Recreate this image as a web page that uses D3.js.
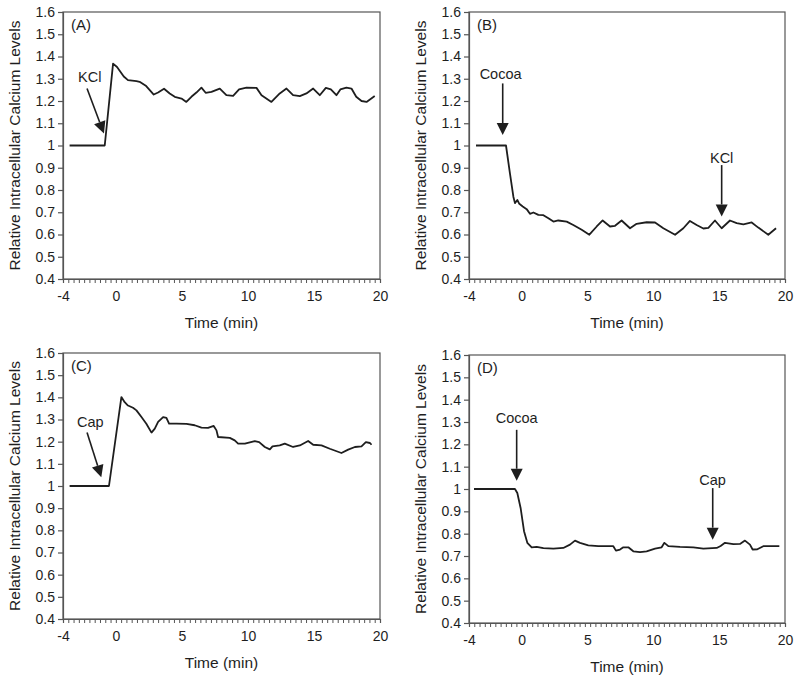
<!DOCTYPE html>
<html><head><meta charset="utf-8">
<script src="https://cdn.jsdelivr.net/npm/d3@7"></script>
<style>
body{margin:0;background:#fff}
svg{display:block}
text{font-family:Arial,"Liberation Sans",sans-serif;fill:#1e1e1e}
</style></head><body>
<svg id="c" width="800" height="684"></svg>
<script>
// ---- data ----
const yTickValues = [0.4,0.5,0.6,0.7,0.8,0.9,1.0,1.1,1.2,1.3,1.4,1.5,1.6];
const xTickLabels = [-4,0,5,10,15,20];
const xMinorStep = 0.4;

const timeA = [-3.5,-0.84,-0.21,0.09,0.6,0.92,1.56,1.8,2.3,2.87,3.2,3.65,4.08,4.46,4.97,5.34,5.72,6.1,6.48,6.8,7.24,7.87,8.37,8.88,9.33,9.89,10.65,11.03,11.78,12.41,12.92,13.42,13.93,14.43,14.94,15.44,15.9,16.28,16.7,17.0,17.46,17.84,18.2,18.6,18.98,19.6];
const calcA = [1.0,1.0,1.368,1.353,1.31,1.294,1.289,1.286,1.267,1.229,1.238,1.255,1.234,1.219,1.211,1.196,1.219,1.238,1.26,1.237,1.241,1.256,1.226,1.223,1.252,1.26,1.259,1.226,1.196,1.234,1.256,1.226,1.222,1.234,1.256,1.226,1.259,1.252,1.226,1.252,1.26,1.256,1.219,1.2,1.196,1.222];

const timeB = [-3.47,-1.19,-0.89,-0.63,-0.51,-0.33,-0.18,0.08,0.38,0.63,0.89,1.27,1.65,2.03,2.41,2.78,3.42,3.92,4.56,5.14,5.7,6.15,6.71,7.09,7.59,8.23,8.73,9.49,10.13,10.76,11.65,12.28,12.78,13.29,13.8,14.18,14.68,15.19,15.82,16.33,16.84,17.47,17.97,18.73,19.32];
const calcB = [1.0,1.0,0.875,0.77,0.741,0.755,0.738,0.726,0.714,0.693,0.699,0.688,0.687,0.673,0.658,0.663,0.658,0.643,0.621,0.599,0.636,0.663,0.636,0.639,0.663,0.628,0.648,0.655,0.654,0.628,0.599,0.628,0.661,0.643,0.627,0.63,0.663,0.628,0.663,0.651,0.646,0.654,0.631,0.599,0.628];

const timeC = [-3.5,-0.52,0.42,0.67,0.92,1.3,1.56,1.94,2.31,2.7,2.95,3.2,3.58,3.83,4.03,4.59,5.35,5.97,6.48,6.98,7.41,7.62,7.74,8.63,9.0,9.26,9.77,10.52,10.85,11.28,11.66,11.86,12.41,12.79,13.42,13.93,14.56,14.94,15.57,16.2,17.08,17.59,18.1,18.6,18.93,19.24,19.36];
const calcC = [1.0,1.0,1.401,1.378,1.363,1.353,1.341,1.311,1.281,1.241,1.259,1.289,1.311,1.307,1.281,1.281,1.28,1.274,1.263,1.262,1.271,1.251,1.221,1.217,1.206,1.191,1.191,1.202,1.198,1.176,1.165,1.179,1.183,1.191,1.176,1.183,1.203,1.186,1.183,1.168,1.149,1.164,1.176,1.179,1.198,1.194,1.186];

const timeD = [-3.62,-0.51,-0.33,-0.08,0.18,0.43,0.76,1.14,1.65,2.41,3.16,3.67,4.05,4.43,5.06,5.82,6.96,7.16,7.47,7.72,8.1,8.48,8.99,9.49,10.13,10.63,10.84,11.14,12.03,13.04,13.8,14.81,15.11,15.44,16.08,16.58,16.96,17.34,17.54,17.9,18.35,19.57];
const calcD = [1.0,1.0,0.982,0.915,0.811,0.759,0.739,0.741,0.735,0.733,0.736,0.751,0.769,0.759,0.748,0.744,0.744,0.724,0.729,0.739,0.739,0.721,0.717,0.721,0.733,0.739,0.759,0.744,0.741,0.739,0.733,0.736,0.745,0.759,0.753,0.754,0.769,0.751,0.729,0.73,0.744,0.744];

// annotations: label, label position (t,v), arrow start (t,v), arrow end (t,v)
const notesA = [{label:"KCl", lt:-1.98, lv:1.309, t0:-2.18, v0:1.256, t1:-0.9, v1:1.054}];
const notesB = [{label:"Cocoa", lt:-1.6, lv:1.323, t0:-1.44, v0:1.279, t1:-1.44, v1:1.047},
                {label:"KCl", lt:15.19, lv:0.945, t0:15.19, v0:0.912, t1:15.19, v1:0.681}];
const notesC = [{label:"Cap", lt:-1.93, lv:1.289, t0:-2.18, v0:1.241, t1:-1.1, v1:1.04}];
const notesD = [{label:"Cocoa", lt:-0.38, lv:1.317, t0:-0.38, v0:1.265, t1:-0.38, v1:1.037},
                {label:"Cap", lt:14.5, lv:1.042, t0:14.51, v0:1.004, t1:14.51, v1:0.773}];

const panels = [
  {tag:"(A)", t:timeA, v:calcA, notes:notesA, left:63, top:12, w:317, h:267},
  {tag:"(B)", t:timeB, v:calcB, notes:notesB, left:469, top:12, w:316, h:267},
  {tag:"(C)", t:timeC, v:calcC, notes:notesC, left:63, top:353, w:317, h:266},
  {tag:"(D)", t:timeD, v:calcD, notes:notesD, left:469, top:355, w:316, h:268}
];

const svg = d3.select("#c");
const axisCol = "#555";
const lineCol = "#1e1e1e";

panels.forEach(p => {
  const g = svg.append("g").attr("transform", `translate(${p.left},${p.top})`);
  const x = d3.scaleLinear().domain([-4,20]).range([0,p.w]);
  const y = d3.scaleLinear().domain([0.4,1.6]).range([p.h,0]);

  // frame
  g.append("rect").attr("x",0).attr("y",0).attr("width",p.w).attr("height",p.h)
    .attr("fill","none").attr("stroke",axisCol).attr("stroke-width",1.2);

  // y axis
  const ya = d3.axisLeft(y).tickValues(yTickValues).tickSize(5).tickPadding(3)
    .tickFormat(d => d3.format(".1f")(d).replace(/^1\.0$/,"1"));
  const yg = g.append("g").call(ya);
  yg.select(".domain").attr("stroke",axisCol).attr("stroke-width",1.2);
  yg.selectAll(".tick line").attr("stroke",axisCol).attr("stroke-width",1.2);
  yg.selectAll(".tick text").style("font-size","14px").attr("fill","#1e1e1e");

  // x axis minor ticks
  const minor = d3.range(-4, 20.0001, xMinorStep);
  const xm = d3.axisBottom(x).tickValues(minor).tickSize(4).tickFormat("");
  const xmg = g.append("g").attr("transform",`translate(0,${p.h})`).call(xm);
  xmg.select(".domain").attr("stroke",axisCol).attr("stroke-width",1.2);
  xmg.selectAll(".tick line").attr("stroke",axisCol).attr("stroke-width",1);

  // x labels
  const xa = d3.axisBottom(x).tickValues(xTickLabels).tickSize(0).tickPadding(12)
    .tickFormat(d => String(d));
  const xag = g.append("g").attr("transform",`translate(0,${p.h})`).call(xa);
  xag.select(".domain").remove();
  xag.selectAll(".tick text").style("font-size","14px").attr("fill","#1e1e1e");

  // axis titles
  g.append("text").attr("x",p.w/2).attr("y",p.h+49).attr("text-anchor","middle")
    .style("font-size","15.5px").text("Time (min)");
  g.append("text").attr("transform",`translate(${-43},${p.h/2}) rotate(-90)`)
    .attr("text-anchor","middle").style("font-size","15.5px")
    .text("Relative Intracellular Calcium Levels");

  // panel tag
  g.append("text").attr("x",8).attr("y",18).style("font-size","15px").text(p.tag);

  // trace
  const pts = p.t.map((t,i)=>[t,p.v[i]]);
  g.append("path").datum(pts)
    .attr("d", d3.line().x(d=>x(d[0])).y(d=>y(d[1])))
    .attr("fill","none").attr("stroke",lineCol).attr("stroke-width",1.8)
    .attr("stroke-linejoin","round");

  // annotations
  p.notes.forEach(n => {
    const x0=x(n.t0), y0=y(n.v0), x1=x(n.t1), y1=y(n.v1);
    const ang = Math.atan2(y1-y0, x1-x0);
    const L=12, W=6;
    const bx = x1 - L*Math.cos(ang), by = y1 - L*Math.sin(ang);
    g.append("line").attr("x1",x0).attr("y1",y0).attr("x2",bx).attr("y2",by)
      .attr("stroke",lineCol).attr("stroke-width",1.6);
    const px = -Math.sin(ang), py = Math.cos(ang);
    g.append("path").attr("d",`M${x1},${y1}L${bx+W*px},${by+W*py}L${bx-W*px},${by-W*py}Z`)
      .attr("fill",lineCol);
    g.append("text").attr("x",x(n.lt)).attr("y",y(n.lv)).attr("dy","0.36em")
      .attr("text-anchor","middle").style("font-size","14.5px").text(n.label);
  });
});
</script></body></html>
